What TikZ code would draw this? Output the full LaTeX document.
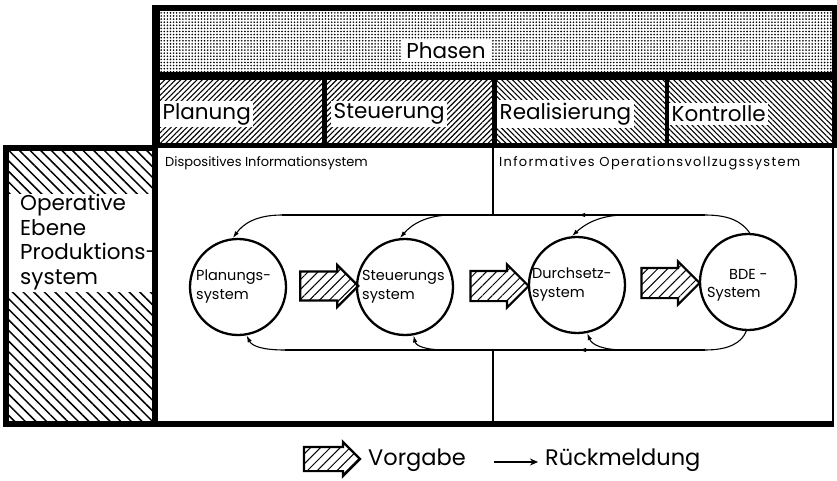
\documentclass[tikz,border=0pt]{standalone}
\usepackage{fontspec}
\setmainfont{Poppins}
\usetikzlibrary{patterns.meta,shapes.arrows,arrows.meta,decorations.markings}

\tikzset{
  big/.style={font=\fontsize{21.5}{24}\selectfont},
  mid/.style={font=\fontsize{13}{15}\selectfont},
  circtext/.style={font=\fontsize{14.5}{19}\selectfont},
  whitelbl/.style={fill=white, inner sep=2.5pt, anchor=west},
  dotband/.style={pattern={Dots[distance=3.1pt,radius=0.9pt]}},
  hatchNE/.style={pattern={Lines[angle=45,distance=3.8pt,line width=1.1pt]}},
  hatchNW/.style={pattern={Lines[angle=-45,distance=3.8pt,line width=1.1pt]}},
  hatchLeft/.style={pattern={Lines[angle=-45,distance=7.5pt,line width=1.5pt]}},
  sys/.style={circle, draw, line width=2.3pt, minimum size=96pt, inner sep=0pt},
  blockarrow/.style={single arrow, draw, line width=2.2pt, minimum height=58pt,
    inner sep=14pt, single arrow head extend=6.5pt,
    pattern={Lines[angle=45,distance=7pt,line width=1pt]}},
  fb/.style={line width=1.1pt, -{Latex[length=7pt,width=4.5pt]}},
  fbline/.style={line width=1.1pt},
}

\begin{document}
\begin{tikzpicture}[x=1pt,y=-1pt]
\useasboundingbox (0,0) rectangle (837,481);

% ---- phase header ----
\fill[black] (152,5) rectangle (837,148);
\fill[white] (160,11) rectangle (832,72);
\fill[dotband] (160,11) rectangle (832,72);
\fill[white] (160,80) rectangle (322,143);
\fill[hatchNE] (160,80) rectangle (322,143);
\fill[white] (327,80) rectangle (492,143);
\fill[hatchNE] (327,80) rectangle (492,143);
\fill[white] (497,80) rectangle (665,143);
\fill[hatchNW] (497,80) rectangle (665,143);
\fill[white] (669,80) rectangle (832,143);
\fill[hatchNW] (669,80) rectangle (832,143);

\node[whitelbl, big, anchor=center, inner xsep=5pt] (phasen) at (446,51) {Phasen};
\node[whitelbl, big] (planung) at (160,114) {Planung};
\node[whitelbl, big] (steuerung) at (331,114) {Steuerung};
\node[whitelbl, big] (realis) at (497,114) {Realisierung};
\node[whitelbl, big] (kontrolle) at (669,114) {Kontrolle};

% ---- operative level ----
\fill[black] (3,145) rectangle (158,427);
\fill[white] (9,151) rectangle (152,421);
\fill[hatchLeft] (9,151) rectangle (152,421);
\fill[white] (9,194) rectangle (152,292);
\node[anchor=north west, align=left, inner sep=0pt,
      font=\fontsize{21.5}{24.5}\selectfont] (operativ) at (20,194)
  {Operative\\Ebene\\Produktions-\\system};

% ---- information systems area ----
\fill[white] (158,148) rectangle (832,421);
\draw[line width=1.5pt] (833,146) -- (833,423);
\fill[black] (152,421) rectangle (834,427);
\draw[line width=1.2pt] (493,148) -- (493,215);
\draw[line width=1.2pt] (493,350) -- (493,421);

\node[mid, anchor=west, inner sep=0pt] (dispo) at (165,163) {Dispositives Informationsystem};
\node[mid, anchor=west, inner sep=0pt] (inform) at (499,163)
  {\addfontfeatures{LetterSpace=10}Informatives Operationsvollzugssystem};

% ---- systems ----
\node[sys] (pl) at (238,287) {};
\node[sys] (st) at (405,287) {};
\node[sys] (du) at (577,285) {};
\node[sys] (bd) at (748,282) {};

\node[circtext, anchor=west, align=left, inner sep=0pt] (plt) at (196,287) {Planungs-\\system};
\node[circtext, anchor=west, align=left, inner sep=0pt] (stt) at (362,287) {Steuerungs\\system};
\node[circtext, anchor=west, align=left, inner sep=0pt] (dut) at (532,285) {Durchsetz-\\system};
\node[circtext, anchor=west, inner sep=0pt] (bdt1) at (729,274) {BDE -};
\node[circtext, anchor=west, inner sep=0pt] (bdt2) at (707,294) {System};

% ---- target flow ----
\node[blockarrow] (v1) at (322,286) {};
\node[blockarrow] (v2) at (492,286) {};
\node[blockarrow] (v3) at (663,283) {};

% ---- feedback loops ----
\coordinate (tR) at (705,215);
\coordinate (tL) at (282,215);
\coordinate (bR) at (705,350);
\coordinate (bL) at (285,350);
\draw[fbline, decoration={markings, mark=at position 0.3 with {\arrow{Latex[length=7pt,width=4.5pt]}}}, postaction=decorate] (tR) -- (tL);
\draw[fbline, decoration={markings, mark=at position 0.3 with {\arrow{Latex[length=7pt,width=4.5pt]}}}, postaction=decorate] (bR) -- (bL);

\draw[fbline] (bd.88) .. controls (742,222) and (730,215) .. (tR);
\draw[fb] (tL) .. controls (256,215) and (243,224) .. (pl.96);
\draw[fb] (452,215) .. controls (427,215) and (412,224) .. (st.96);
\draw[fb] (625,215) .. controls (600,215) and (585,224) .. (du.96);

\draw[fbline] (bd.-92) .. controls (742,342) and (730,350) .. (bR);
\draw[fb] (bL) .. controls (262,350) and (252,346) .. (pl.-80);
\draw[fb] (447,350) .. controls (425,350) and (416,346) .. (st.-80);
\draw[fb] (625,350) .. controls (603,350) and (592,345) .. (du.-78);

% ---- legend ----
\node[blockarrow, minimum height=56pt, inner sep=11pt, single arrow head extend=5pt] (lv) at (326,459) {};
\node[anchor=west, inner sep=0pt, font=\fontsize{22.5}{25}\selectfont] (lvt) at (368,460) {Vorgabe};
\coordinate (la) at (494,462);
\coordinate (lb) at (538,462);
\draw[line width=1.1pt, -{Stealth[length=8pt,width=7pt]}] (la) -- (lb);
\node[anchor=west, inner sep=0pt, font=\fontsize{22.5}{25}\selectfont] (lrt) at (545,460) {Rückmeldung};
\end{tikzpicture}
\end{document}
